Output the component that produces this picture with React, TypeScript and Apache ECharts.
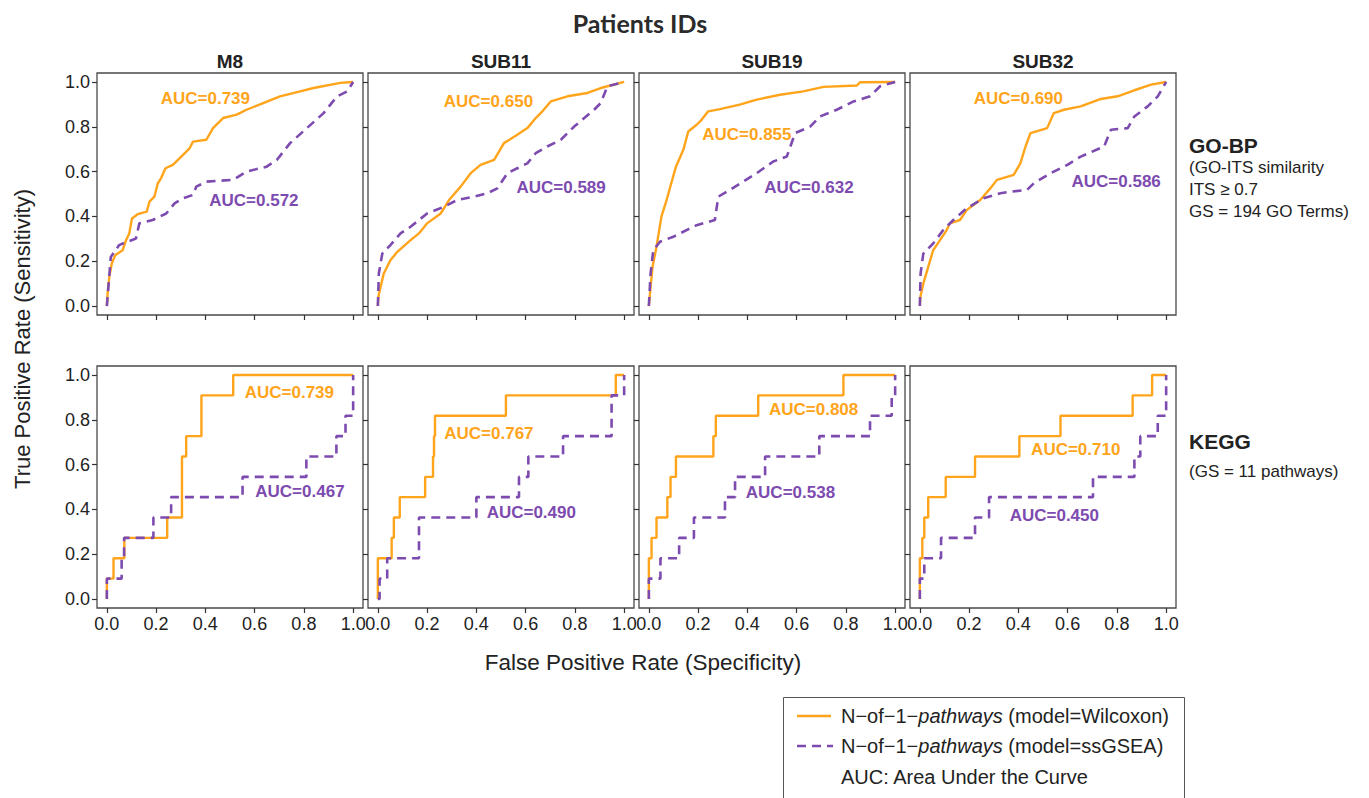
import React, { useEffect, useRef } from "react";
import * as echarts from "echarts";

const PATIENTS = ["M8", "SUB11", "SUB19", "SUB32"];
const GENE_SETS = ["GO-BP", "KEGG"];
const GENE_SET_NOTES = [["(GO-ITS similarity", "ITS \u2265 0.7", "GS = 194 GO Terms)"], ["(GS = 11 pathways)"]];
const TICKS = [0, 0.2, 0.4, 0.6, 0.8, 1.0];
const MODELS = ["Wilcoxon", "ssGSEA"];

// ---- GO-BP ROC curves [FPR, TPR] ----
const goM8Wilcoxon = [[0,0],[0.003,0.055],[0.01,0.13],[0.02,0.19],[0.034,0.227],[0.064,0.249],[0.078,0.294],[0.091,0.324],[0.102,0.391],[0.125,0.41],[0.162,0.421],[0.173,0.466],[0.193,0.488],[0.207,0.548],[0.22,0.57],[0.238,0.615],[0.268,0.63],[0.302,0.667],[0.336,0.704],[0.35,0.734],[0.404,0.742],[0.431,0.794],[0.472,0.839],[0.527,0.854],[0.567,0.876],[0.635,0.906],[0.703,0.936],[0.785,0.958],[0.839,0.973],[0.948,0.996],[1,1]];
const goM8Ssgsea = [[0,0],[0.016,0.219],[0.05,0.272],[0.071,0.282],[0.118,0.301],[0.132,0.369],[0.186,0.384],[0.241,0.413],[0.275,0.458],[0.309,0.481],[0.35,0.496],[0.363,0.533],[0.404,0.555],[0.513,0.563],[0.567,0.6],[0.649,0.622],[0.69,0.652],[0.744,0.727],[0.812,0.794],[0.88,0.861],[0.935,0.936],[0.976,0.958],[1,1]];
const goSub11Wilcoxon = [[0,0],[0.002,0.04],[0.011,0.085],[0.024,0.145],[0.051,0.204],[0.079,0.242],[0.133,0.294],[0.167,0.324],[0.2,0.369],[0.255,0.413],[0.289,0.473],[0.336,0.533],[0.377,0.593],[0.417,0.63],[0.472,0.652],[0.512,0.727],[0.566,0.764],[0.607,0.794],[0.641,0.839],[0.668,0.869],[0.702,0.913],[0.77,0.936],[0.851,0.951],[0.905,0.973],[1,1]];
const goSub11Ssgsea = [[0,0],[0.004,0.145],[0.018,0.234],[0.051,0.272],[0.092,0.324],[0.133,0.354],[0.2,0.413],[0.268,0.443],[0.322,0.473],[0.39,0.488],[0.444,0.503],[0.485,0.525],[0.526,0.593],[0.566,0.615],[0.607,0.637],[0.641,0.682],[0.688,0.712],[0.743,0.742],[0.797,0.801],[0.878,0.876],[0.905,0.906],[0.932,0.981],[1,1]];
const goSub19Wilcoxon = [[0,0],[0.007,0.085],[0.015,0.175],[0.031,0.264],[0.051,0.399],[0.072,0.473],[0.091,0.548],[0.11,0.622],[0.14,0.697],[0.16,0.779],[0.194,0.809],[0.214,0.831],[0.241,0.869],[0.289,0.879],[0.369,0.899],[0.438,0.921],[0.533,0.943],[0.627,0.958],[0.709,0.978],[0.844,0.984],[0.858,0.999],[1,1]];
const goSub19Ssgsea = [[0,0],[0.007,0.145],[0.018,0.249],[0.045,0.287],[0.099,0.309],[0.153,0.339],[0.194,0.361],[0.268,0.384],[0.282,0.488],[0.329,0.518],[0.383,0.555],[0.438,0.593],[0.505,0.645],[0.56,0.667],[0.594,0.772],[0.655,0.801],[0.695,0.846],[0.763,0.876],[0.831,0.913],[0.898,0.936],[0.939,0.981],[1,1]];
const goSub32Wilcoxon = [[0,0],[0.002,0.04],[0.014,0.1],[0.034,0.175],[0.054,0.249],[0.082,0.294],[0.109,0.339],[0.122,0.369],[0.163,0.384],[0.19,0.428],[0.245,0.473],[0.286,0.525],[0.313,0.563],[0.381,0.585],[0.408,0.637],[0.429,0.712],[0.449,0.772],[0.517,0.794],[0.544,0.861],[0.585,0.876],[0.653,0.891],[0.735,0.924],[0.803,0.936],[0.871,0.963],[0.939,0.988],[1,1]];
const goSub32Ssgsea = [[0,0],[0.003,0.145],[0.014,0.234],[0.054,0.279],[0.095,0.339],[0.136,0.384],[0.19,0.436],[0.259,0.481],[0.327,0.503],[0.367,0.51],[0.435,0.518],[0.463,0.548],[0.531,0.593],[0.599,0.63],[0.653,0.667],[0.748,0.712],[0.776,0.787],[0.844,0.794],[0.871,0.846],[0.925,0.891],[0.966,0.936],[1,1]];

// ---- KEGG ROC curves [FPR, TPR] ----
const keggM8Wilcoxon = [[0,0],[0,0.091],[0.027,0.091],[0.027,0.182],[0.071,0.182],[0.071,0.273],[0.245,0.273],[0.245,0.364],[0.305,0.364],[0.305,0.636],[0.322,0.636],[0.322,0.727],[0.384,0.727],[0.384,0.909],[0.513,0.909],[0.513,1],[1,1]];
const keggM8Ssgsea = [[0,0],[0,0.091],[0.06,0.091],[0.06,0.182],[0.07,0.182],[0.07,0.273],[0.189,0.273],[0.189,0.364],[0.261,0.364],[0.261,0.455],[0.551,0.455],[0.551,0.545],[0.81,0.545],[0.81,0.636],[0.932,0.636],[0.932,0.727],[0.969,0.727],[0.969,0.818],[1,0.818],[1,1]];
const keggSub11Wilcoxon = [[0,0],[0,0.182],[0.056,0.182],[0.056,0.273],[0.065,0.273],[0.065,0.364],[0.089,0.364],[0.089,0.455],[0.192,0.455],[0.192,0.545],[0.224,0.545],[0.224,0.636],[0.228,0.636],[0.228,0.727],[0.232,0.727],[0.232,0.818],[0.52,0.818],[0.52,0.909],[0.966,0.909],[0.966,1],[1,1]];
const keggSub11Ssgsea = [[0,0],[0.007,0],[0.007,0.091],[0.038,0.091],[0.038,0.182],[0.167,0.182],[0.167,0.364],[0.4,0.364],[0.4,0.455],[0.573,0.455],[0.573,0.545],[0.611,0.545],[0.611,0.636],[0.752,0.636],[0.752,0.727],[0.949,0.727],[0.949,0.909],[1,0.909],[1,1]];
const keggSub19Wilcoxon = [[0,0],[0,0.182],[0.011,0.182],[0.011,0.273],[0.031,0.273],[0.031,0.364],[0.075,0.364],[0.075,0.455],[0.088,0.455],[0.088,0.545],[0.11,0.545],[0.11,0.636],[0.262,0.636],[0.262,0.727],[0.272,0.727],[0.272,0.818],[0.444,0.818],[0.444,0.909],[0.79,0.909],[0.79,1],[1,1]];
const keggSub19Ssgsea = [[0,0],[0,0.091],[0.047,0.091],[0.047,0.182],[0.123,0.182],[0.123,0.273],[0.183,0.273],[0.183,0.364],[0.309,0.364],[0.309,0.455],[0.35,0.455],[0.35,0.545],[0.472,0.545],[0.472,0.636],[0.692,0.636],[0.692,0.727],[0.898,0.727],[0.898,0.818],[0.986,0.818],[0.986,0.909],[1,0.909],[1,1]];
const keggSub32Wilcoxon = [[0,0],[0,0.182],[0.01,0.182],[0.01,0.273],[0.018,0.273],[0.018,0.364],[0.034,0.364],[0.034,0.455],[0.105,0.455],[0.105,0.545],[0.224,0.545],[0.224,0.636],[0.404,0.636],[0.404,0.727],[0.571,0.727],[0.571,0.818],[0.864,0.818],[0.864,0.909],[0.943,0.909],[0.943,1],[1,1]];
const keggSub32Ssgsea = [[0,0],[0,0.091],[0.018,0.091],[0.018,0.182],[0.086,0.182],[0.086,0.273],[0.224,0.273],[0.224,0.364],[0.281,0.364],[0.281,0.455],[0.703,0.455],[0.703,0.545],[0.871,0.545],[0.871,0.636],[0.895,0.636],[0.895,0.727],[0.966,0.727],[0.966,0.818],[1,0.818],[1,1]];

const CURVES = [
  [[goM8Wilcoxon, goM8Ssgsea], [goSub11Wilcoxon, goSub11Ssgsea], [goSub19Wilcoxon, goSub19Ssgsea], [goSub32Wilcoxon, goSub32Ssgsea]],
  [[keggM8Wilcoxon, keggM8Ssgsea], [keggSub11Wilcoxon, keggSub11Ssgsea], [keggSub19Wilcoxon, keggSub19Ssgsea], [keggSub32Wilcoxon, keggSub32Ssgsea]],
];

const AUC_WILCOXON = [[0.739, 0.650, 0.855, 0.690], [0.739, 0.767, 0.808, 0.710]];
const AUC_SSGSEA = [[0.572, 0.589, 0.632, 0.586], [0.467, 0.490, 0.538, 0.450]];

// ---- layout (not data) ----
const AUC_POS_W = [[[0.40, 0.924], [0.449, 0.913], [0.398, 0.764], [0.40, 0.924]], [[0.741, 0.923], [0.451, 0.74], [0.669, 0.847], [0.633, 0.669]]];
const AUC_POS_S = [[[0.597, 0.473], [0.744, 0.528], [0.65, 0.528], [0.797, 0.558]], [[0.784, 0.48], [0.623, 0.386], [0.575, 0.475], [0.546, 0.373]]];
const BOX_LEFT = [97, 368, 639, 910];
const BOX_TOP = [73, 366];
const BOX_W = 266;
const BOX_H = 242;

const ORANGE = "#ffa41b";
const PURPLE = "#7d4bb0";
const FONT = "'Liberation Sans', Arial, sans-serif";
const DASH = [9, 6];

function buildOption() {
  const grid: any[] = [];
  const xAxis: any[] = [];
  const yAxis: any[] = [];
  const series: any[] = [];
  const fmt = (v: number) => v.toFixed(1);
  for (let r = 0; r < 2; r++) {
    for (let c = 0; c < 4; c++) {
      const i = r * 4 + c;
      grid.push({
        left: BOX_LEFT[c], top: BOX_TOP[r], width: BOX_W, height: BOX_H,
        show: true, borderColor: "#4a4a4a", borderWidth: 1.3, backgroundColor: "transparent",
      });
      xAxis.push({
        type: "value", gridIndex: i, min: -0.04, max: 1.04, position: "bottom",
        axisLine: { show: false, onZero: false }, splitLine: { show: false },
        axisTick: { show: true, inside: false, length: 5, customValues: TICKS, lineStyle: { color: "#333", width: 1.2 } },
        axisLabel: { show: r === 1, customValues: TICKS, formatter: fmt, margin: 7, fontSize: 18, color: "#222", fontFamily: FONT },
      });
      yAxis.push({
        type: "value", gridIndex: i, min: -0.04, max: 1.04, position: "left",
        axisLine: { show: false, onZero: false }, splitLine: { show: false },
        axisTick: { show: true, inside: false, length: 5, customValues: TICKS, lineStyle: { color: "#333", width: 1.2 } },
        axisLabel: { show: c === 0, customValues: TICKS, formatter: fmt, margin: 7, fontSize: 18, color: "#222", fontFamily: FONT },
      });
      const [w, s] = CURVES[r][c];
      series.push({
        name: MODELS[0], type: "line", xAxisIndex: i, yAxisIndex: i, data: w,
        symbol: "none", showSymbol: false, silent: true,
        lineStyle: { color: ORANGE, width: 2.4 }, itemStyle: { color: ORANGE },
        markPoint: {
          symbol: "circle", symbolSize: 1, itemStyle: { color: "rgba(0,0,0,0)" },
          data: [{ coord: AUC_POS_W[r][c], value: AUC_WILCOXON[r][c] }],
          label: { show: true, position: "inside", formatter: "AUC=" + AUC_WILCOXON[r][c].toFixed(3), color: ORANGE, fontSize: 17, fontWeight: "bold", fontFamily: FONT },
        },
      });
      series.push({
        name: MODELS[1], type: "line", xAxisIndex: i, yAxisIndex: i, data: s,
        symbol: "none", showSymbol: false, silent: true,
        lineStyle: { color: PURPLE, width: 2.6, type: DASH }, itemStyle: { color: PURPLE },
        markPoint: {
          symbol: "circle", symbolSize: 1, itemStyle: { color: "rgba(0,0,0,0)" },
          data: [{ coord: AUC_POS_S[r][c], value: AUC_SSGSEA[r][c] }],
          label: { show: true, position: "inside", formatter: "AUC=" + AUC_SSGSEA[r][c].toFixed(3), color: PURPLE, fontSize: 17, fontWeight: "bold", fontFamily: FONT },
        },
      });
    }
  }

  const textColor = "#222";
  const LEG_FS = 20;
  const legendText = (model: string) => "N\u2212of\u22121\u2212{i|pathways} (model=" + model + ")";
  const graphic: any[] = [
    { type: "text", x: 640, y: 23, style: { text: "Patients IDs", fontFamily: "Lato, 'Open Sans', sans-serif", fontWeight: "bold", fontSize: 25, fill: "#2b2b2b", align: "center", verticalAlign: "middle" } },
    { type: "text", x: 22, y: 339, rotation: Math.PI / 2, style: { text: "True Positive Rate (Sensitivity)", fontFamily: FONT, fontSize: 22, fill: textColor, align: "center", verticalAlign: "middle" } },
    { type: "text", x: 643, y: 662, style: { text: "False Positive Rate (Specificity)", fontFamily: FONT, fontSize: 22.5, fill: textColor, align: "center", verticalAlign: "middle" } },
    { type: "rect", shape: { x: 783.5, y: 697.5, width: 401, height: 120 }, style: { fill: "#fff", stroke: "#555", lineWidth: 1 }, z: -1 },
    { type: "line", shape: { x1: 797, y1: 716, x2: 831, y2: 716 }, style: { stroke: ORANGE, lineWidth: 2.4 } },
    { type: "line", shape: { x1: 797, y1: 746, x2: 833, y2: 746 }, style: { stroke: PURPLE, lineWidth: 2.6, lineDash: DASH } },
    { type: "text", x: 841, y: 716, style: { text: legendText(MODELS[0]), fontFamily: FONT, fontSize: LEG_FS, fill: textColor, verticalAlign: "middle", rich: { i: { fontStyle: "italic", fontSize: LEG_FS, fill: textColor, fontFamily: FONT } } } },
    { type: "text", x: 841, y: 746, style: { text: legendText(MODELS[1]), fontFamily: FONT, fontSize: LEG_FS, fill: textColor, verticalAlign: "middle", rich: { i: { fontStyle: "italic", fontSize: LEG_FS, fill: textColor, fontFamily: FONT } } } },
    { type: "text", x: 841, y: 777, style: { text: "AUC: Area Under the Curve", fontFamily: FONT, fontSize: LEG_FS, fill: textColor, verticalAlign: "middle" } },
  ];
  PATIENTS.forEach((p, c) => {
    graphic.push({ type: "text", x: BOX_LEFT[c] + BOX_W / 2, y: 61, style: { text: p, fontFamily: FONT, fontWeight: "bold", fontSize: 19, fill: textColor, align: "center", verticalAlign: "middle" } });
  });
  const labelY = [145, 441];
  GENE_SETS.forEach((g, r) => {
    graphic.push({ type: "text", x: 1189, y: labelY[r], style: { text: g, fontFamily: FONT, fontWeight: "bold", fontSize: 21, fill: textColor, verticalAlign: "middle" } });
    GENE_SET_NOTES[r].forEach((line, k) => {
      graphic.push({ type: "text", x: 1189, y: labelY[r] + (r === 0 ? 22 : 30) + k * 22, style: { text: line, fontFamily: FONT, fontSize: 17, fill: textColor, verticalAlign: "middle" } });
    });
  });

  return {
    animation: false,
    backgroundColor: "#fff",
    textStyle: { fontFamily: FONT },
    grid, xAxis, yAxis, series, graphic,
  };
}

export default function App() {
  const ref = useRef<HTMLDivElement>(null);
  useEffect(() => {
    if (!ref.current) return;
    const chart = echarts.init(ref.current, undefined, { renderer: "svg" });
    chart.setOption(buildOption() as any);
    return () => chart.dispose();
  }, []);
  return <div ref={ref} style={{ position: "fixed", left: 0, top: 0, width: 1369, height: 798 }} />;
}
